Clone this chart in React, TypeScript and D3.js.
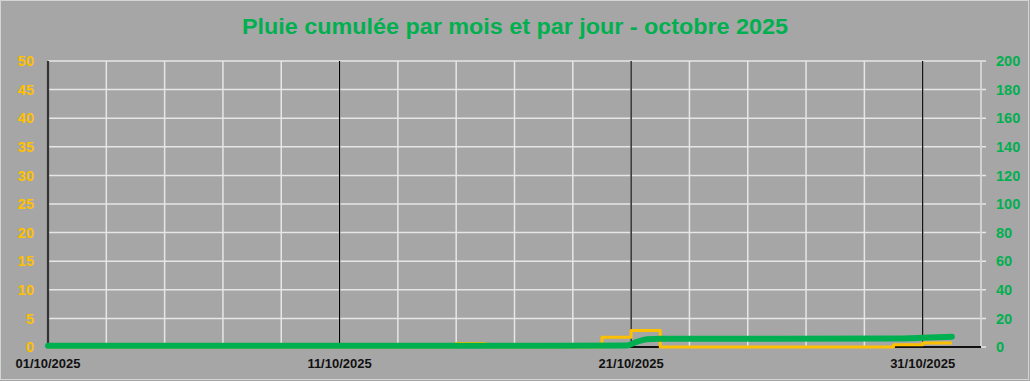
import React from "react";
import * as d3 from "d3";

// ---- data ----
const title = "Pluie cumulée par mois et par jour - octobre 2025";
const dailyDates = [
  "01/10/2025", "02/10/2025", "03/10/2025", "04/10/2025", "05/10/2025", "06/10/2025",
  "07/10/2025", "08/10/2025", "09/10/2025", "10/10/2025", "11/10/2025", "12/10/2025",
  "13/10/2025", "14/10/2025", "15/10/2025", "16/10/2025", "17/10/2025", "18/10/2025",
  "19/10/2025", "20/10/2025", "21/10/2025", "22/10/2025", "23/10/2025", "24/10/2025",
  "25/10/2025", "26/10/2025", "27/10/2025", "28/10/2025", "29/10/2025", "30/10/2025",
  "31/10/2025", "01/11/2025",
];
const dailyRain = [
  0, 0, 0, 0, 0, 0, 0, 0, 0, 0, 0, 0, 0, 0, 0.6, 0,
  0, 0, 0, 1.7, 2.9, 0, 0, 0, 0, 0, 0, 0, 0, 0.4, 0.7, 0.7,
];
const cumulDates = [
  "01/10/2025 00:00", "15/10/2025 00:00", "16/10/2025 00:00", "20/10/2025 20:00",
  "21/10/2025 04:00", "21/10/2025 13:00", "22/10/2025 00:00", "30/10/2025 00:00",
  "31/10/2025 00:00", "01/11/2025 00:00",
];
const cumulRain = [0.8, 0.8, 0.9, 1.0, 3.4, 5.5, 5.8, 5.9, 6.4, 7.2];
const leftTicks = [0, 5, 10, 15, 20, 25, 30, 35, 40, 45, 50];
const rightTicks = [0, 20, 40, 60, 80, 100, 120, 140, 160, 180, 200];
const xLabelDates = ["01/10/2025", "11/10/2025", "21/10/2025", "31/10/2025"];
const xStart = "01/10/2025";
const xEnd = "02/11/2025";

const parseDay = d3.timeParse("%d/%m/%Y");
const parseDT = d3.timeParse("%d/%m/%Y %H:%M");

export default function App() {
  const W = 1030, H = 381;
  const left = 48, right = 981, top = 61, bottom = 347;
  const x = d3.scaleTime().domain([parseDay(xStart)!, parseDay(xEnd)!]).range([left, right]);
  const yL = d3.scaleLinear().domain([0, 50]).range([bottom, top]);
  const yR = d3.scaleLinear().domain([0, 200]).range([bottom, top]);

  const gridDays = d3.timeDay.range(parseDay(xStart)!, d3.timeDay.offset(parseDay(xEnd)!, 1), 1)
    .filter((_, i) => i % 2 === 0);

  const dailyPts = dailyDates.map((d, i) => [parseDay(d)!, dailyRain[i]] as [Date, number]);
  const cumPts = cumulDates.map((d, i) => [parseDT(d)!, cumulRain[i]] as [Date, number]);

  const stepLine = d3.line<[Date, number]>()
    .x((d) => x(d[0]))
    .y((d) => yL(d[1]))
    .curve(d3.curveStepAfter);
  const cumLine = d3.line<[Date, number]>()
    .x((d) => x(d[0]))
    .y((d) => yR(d[1]))
    .curve(d3.curveMonotoneX);

  const font = "'Liberation Sans', Arial, sans-serif";
  const green = "#00b050";
  const yellow = "#ffc000";
  const grid = "#e6e6e6";

  return (
    <svg width={W} height={H} style={{ position: "absolute", left: 0, top: 0 }} fontFamily={font}>
      <rect x={0} y={0} width={W} height={H} fill="#a6a6a6" />
      <rect x={0.5} y={0.5} width={1028} height={379} fill="none" stroke="#d4d4d4" strokeWidth={1} />
      <text x={515} y={34} textAnchor="middle" fill={green} fontWeight="bold" fontSize={22}
        textLength={546} lengthAdjust="spacingAndGlyphs">{title}</text>

      {/* horizontal gridlines */}
      {leftTicks.map((t) => (
        <line key={"h" + t} x1={left} x2={right + 5} y1={yL(t)} y2={yL(t)} stroke={grid} strokeWidth={1.5} />
      ))}
      {/* vertical gridlines */}
      {gridDays.map((d, i) => (
        <line key={"v" + i} x1={x(d)} x2={x(d)} y1={top} y2={bottom} stroke={grid} strokeWidth={1.5} />
      ))}
      {/* right axis line */}
      <line x1={right} x2={right} y1={top} y2={bottom} stroke="#d0d0d0" strokeWidth={1.5} />
      {/* black label lines */}
      {xLabelDates.map((d) => (
        <line key={"b" + d} x1={x(parseDay(d)!)} x2={x(parseDay(d)!)} y1={top} y2={bottom} stroke="#000" strokeWidth={1.2} />
      ))}
      {/* left axis */}
      <line x1={left} x2={left} y1={top} y2={bottom + 1} stroke="#333" strokeWidth={2.2} />
      {/* x axis */}
      <line x1={left} x2={right} y1={bottom} y2={bottom} stroke="#111" strokeWidth={2.2} />

      {/* series */}
      <path d={stepLine(dailyPts)!} fill="none" stroke={yellow} strokeWidth={3} strokeLinejoin="round" />
      <path d={cumLine(cumPts)!} fill="none" stroke={green} strokeWidth={6} strokeLinecap="round" strokeLinejoin="round" />

      {/* left labels */}
      {leftTicks.map((t) => (
        <text key={"l" + t} x={34} y={yL(t)} dy="0.36em" textAnchor="end" fill={yellow} fontWeight="bold" fontSize={14.5}>{t}</text>
      ))}
      {/* right labels */}
      {rightTicks.map((t) => (
        <text key={"r" + t} x={996} y={yR(t)} dy="0.36em" textAnchor="start" fill={green} fontWeight="bold" fontSize={14.5}>{t}</text>
      ))}
      {/* x labels */}
      {xLabelDates.map((d) => (
        <text key={"x" + d} x={x(parseDay(d)!)} y={368} textAnchor="middle" fill="#111" fontWeight="bold" fontSize={13}>{d}</text>
      ))}
    </svg>
  );
}
